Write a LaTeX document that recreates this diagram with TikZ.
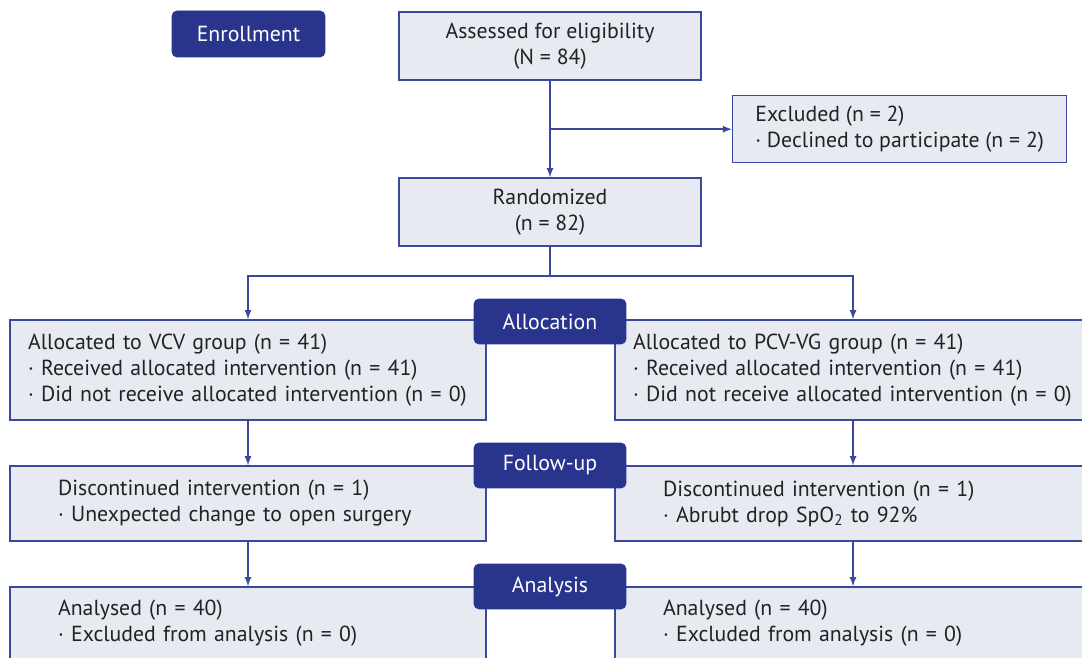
\documentclass[tikz,border=0pt]{standalone}
\usepackage{fontspec}
\setmainfont{PT Sans}
\usepackage{xcolor}
\usepackage{tikz}

\definecolor{navy}{RGB}{41,53,140}
\definecolor{boxfill}{RGB}{232,234,241}
\definecolor{boxline}{RGB}{60,72,155}
\definecolor{txt}{RGB}{34,34,34}

\begin{document}
\begin{tikzpicture}[x=0.02cm,y=-0.02cm,>=latex,
    every node/.style={font=\fontsize{12.4pt}{14.8pt}\selectfont,text=txt},
    stage/.style={draw=navy,fill=navy,rounded corners=0.1cm,text=white,
        minimum width=3.04cm,minimum height=0.9cm,inner sep=0pt},
    box/.style={draw=boxline,fill=boxfill,line width=0.8pt,inner sep=0pt},
    groupbox/.style={box,minimum width=9.52cm,align=left,inner xsep=#1,text width=9.52cm-2*#1},
    flow/.style={draw=boxline,line width=0.8pt,->}]
                    \useasboundingbox (0,0) rectangle (1082,658);
                    \clip (0,0) rectangle (1082,658);

                    % enrollment
                    \node[stage,minimum width=3.06cm,minimum height=0.92cm] (enroll) at (248.5,34) {Enrollment};
                    \node[box,minimum width=6.04cm,minimum height=1.36cm,align=center] (assess) at (550,46) {Assessed for eligibility\\(N = 84)};
                    \node[box,anchor=north west,minimum width=6.68cm,minimum height=1.34cm,align=left] (excl) at (732,95) {Excluded (n = 2)\\· Declined to participate (n = 2)};
                    \node[box,minimum width=6.04cm,minimum height=1.36cm,align=center] (rand) at (550,212) {Randomized\\(n = 82)};

                    \draw[flow] (assess.south) -- (rand.north);
                    \draw[flow] (assess.south |- excl.west) -- (excl.west);

                    % allocation
                    \node[groupbox=0.36cm,minimum height=2cm] (alocL) at (248,370) {Allocated to VCV group (n = 41)\\· Received allocated intervention (n = 41)\\· Did not receive allocated intervention (n = 0)};
                    \node[groupbox=0.36cm,minimum height=2cm] (alocR) at (853,370) {Allocated to PCV-VG group (n = 41)\\· Received allocated intervention (n = 41)\\· Did not receive allocated intervention (n = 0)};
                    \coordinate (split) at (550,276);
                    \draw[flow] (rand.south) -- (split) -| (alocL.north);
                    \draw[flow] (split) -| (alocR.north);

                    % follow-up
                    \node[groupbox=0.96cm,minimum height=1.5cm] (fuL) at (248,503.5) {Discontinued intervention (n = 1)\\· Unexpected change to open surgery};
                    \node[groupbox=0.96cm,minimum height=1.5cm] (fuR) at (853,503.5) {Discontinued intervention (n = 1)\\· Abrubt drop SpO\textsubscript{2} to 92\%};
                    \draw[flow] (alocL.south) -- (fuL.north);
                    \draw[flow] (alocR.south) -- (fuR.north);

                    % analysis
                    \node[groupbox=0.96cm,minimum height=1.44cm] (anL) at (248,623) {Analysed (n = 40)\\· Excluded from analysis (n = 0)};
                    \node[groupbox=0.96cm,minimum height=1.44cm] (anR) at (853,623) {Analysed (n = 40)\\· Excluded from analysis (n = 0)};
                    \draw[flow] (fuL.south) -- (anL.north);
                    \draw[flow] (fuR.south) -- (anR.north);

                    % stage labels
                    \node[stage] (alloc) at (550,321.5) {Allocation};
                    \node[stage] (follow) at (550,465.5) {Follow-up};
                    \node[stage] (analysis) at (550,586.5) {Analysis};
                \end{tikzpicture}
\end{document}
